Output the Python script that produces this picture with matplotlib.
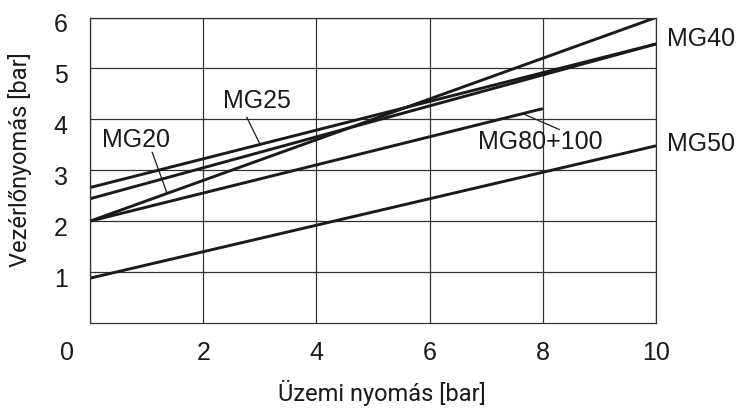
import matplotlib.pyplot as plt
from matplotlib.transforms import ScaledTranslation

plt.rcParams['font.family'] = ['Liberation Sans', 'DejaVu Sans']

# operating pressure [bar] vs pilot pressure [bar], start and end points of each curve
names = ["MG25", "MG40", "MG20", "MG80+100", "MG50"]
x_start = [0, 0, 0, 0, 0]
x_end = [10, 10, 10, 8, 10]
y_start = [2.66, 2.44, 2.0, 2.0, 0.88]
y_end = [5.48, 5.48, 6.0, 4.21, 3.48]

x_ticks = [0, 2, 4, 6, 8, 10]
y_ticks = [1, 2, 3, 4, 5, 6]

# label text position and leader line (text anchor -> curve)
labels = {
    "MG25": dict(text=(2.95, 4.36), leader=[(2.77, 4.04), (3.0, 3.52)]),
    "MG20": dict(text=(0.82, 3.6), leader=[(1.10, 3.35), (1.36, 2.55)]),
    "MG80+100": dict(text=(7.95, 3.55), leader=[(7.65, 4.11), (8.29, 3.80)]),
    "MG40": dict(text=(10.2, 5.57), leader=None),
    "MG50": dict(text=(10.2, 3.52), leader=None),
}

fig = plt.figure(figsize=(7.39, 4.09), dpi=100)
ax = fig.add_axes([0.1218, 0.2103, 0.7659, 0.7469])

for i in range(len(names)):
    ax.plot([x_start[i], x_end[i]], [y_start[i], y_end[i]],
            color="#1a1a1a", lw=2.1, solid_capstyle="butt")

for name, d in labels.items():
    tx, ty = d["text"]
    ha = "left" if tx > 10 else "center"
    ax.text(tx, ty, name, fontsize=18, ha=ha, va="center", color="#1a1a1a",
            clip_on=False)
    if d["leader"]:
        (x0, y0), (x1, y1) = d["leader"]
        ax.plot([x0, x1], [y0, y1], color="#1a1a1a", lw=0.9)

ax.set_xlim(0, 10)
ax.set_ylim(0, 6)
ax.set_xticks(x_ticks)
ax.set_yticks(y_ticks)
ax.tick_params(length=0, labelsize=18, colors="#1a1a1a")
ax.tick_params(axis="x", pad=13)
ax.tick_params(axis="y", pad=16)

# y labels sit a little below their grid lines
for lab in ax.get_yticklabels():
    lab.set_transform(lab.get_transform() + ScaledTranslation(0, -0.05, fig.dpi_scale_trans))
# the "0" is pushed left of the corner
zero = ax.get_xticklabels()[0]
zero.set_transform(zero.get_transform() + ScaledTranslation(-0.23, 0, fig.dpi_scale_trans))

ax.grid(True, color="#333333", lw=0.9)
for s in ax.spines.values():
    s.set_color("#333333")
    s.set_linewidth(0.9)

ax.set_xlabel("Üzemi nyomás [bar]", fontsize=17, family=["Roboto", "DejaVu Sans"],
              color="#1a1a1a")
ax.set_ylabel("Vezérlőnyomás [bar]", fontsize=17, family=["Roboto", "DejaVu Sans"],
              color="#1a1a1a")
ax.xaxis.set_label_coords(0.516, -0.185)
ax.yaxis.set_label_coords(-0.103, 0.534)

fig.savefig("out.png", dpi=100)
